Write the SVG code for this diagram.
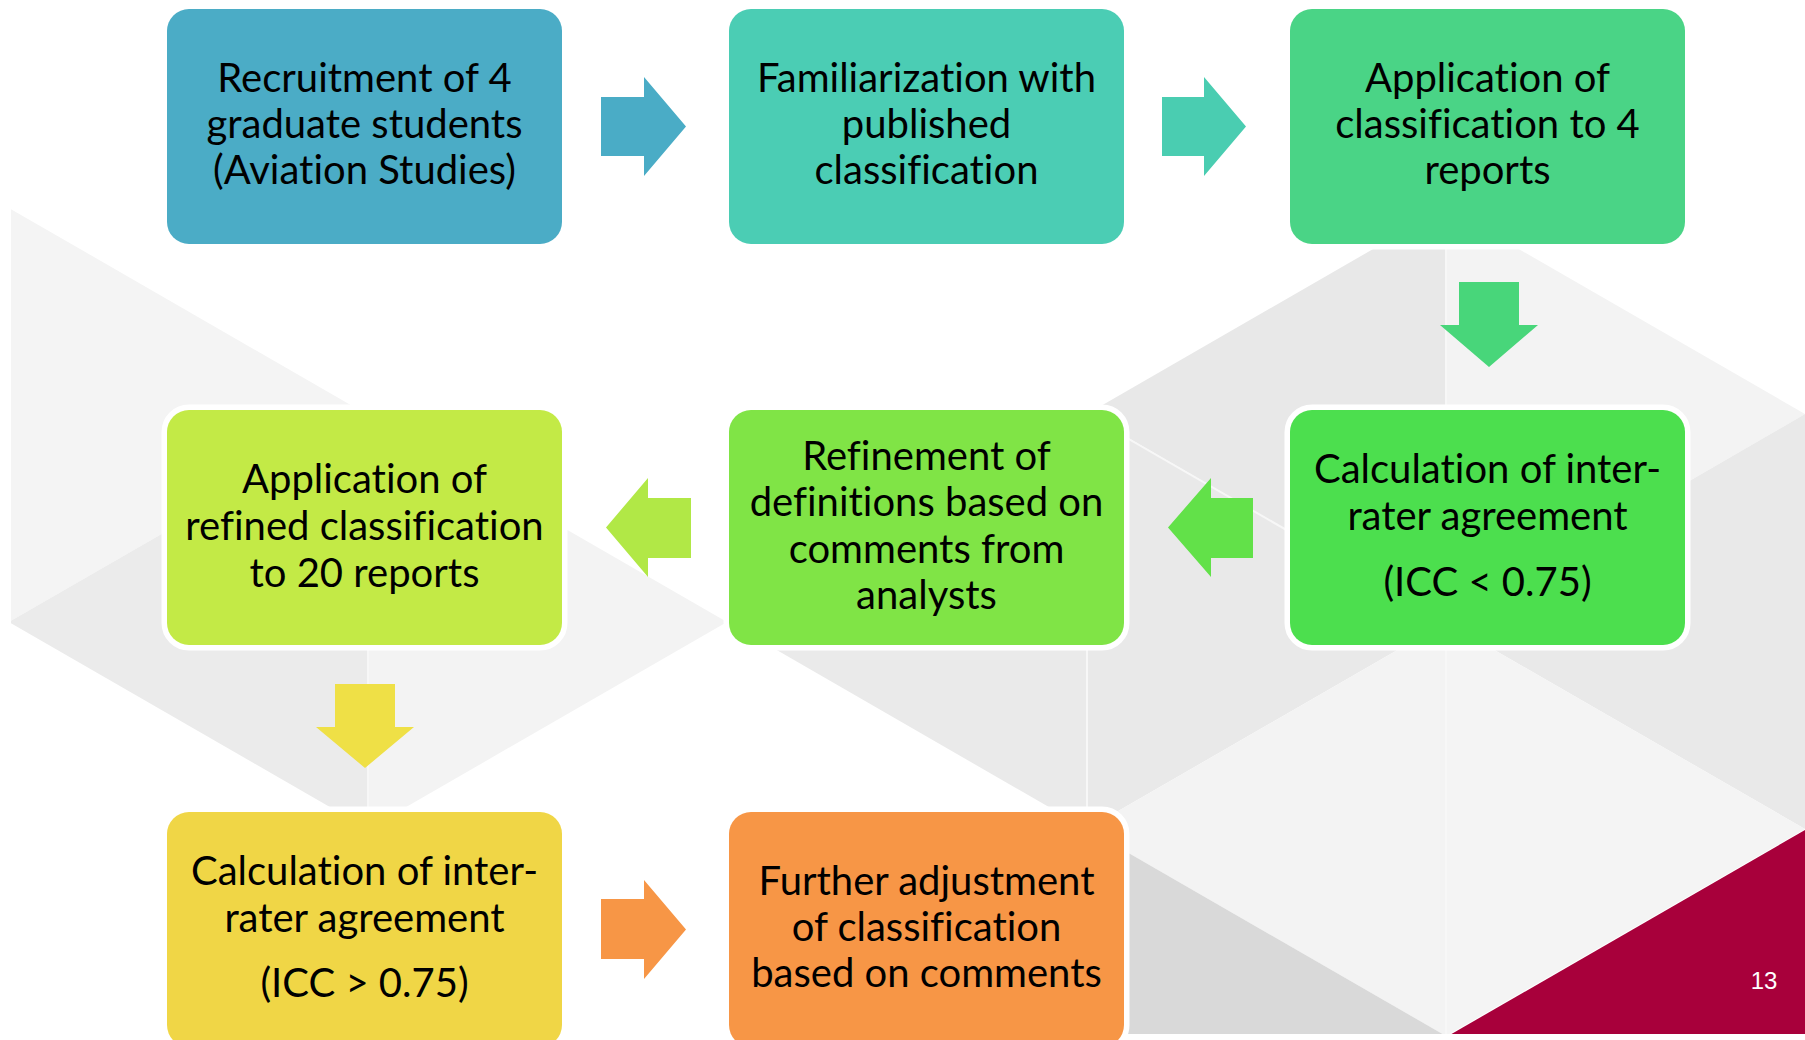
<svg xmlns="http://www.w3.org/2000/svg" width="1805" height="1040" viewBox="0 0 1805 1040">
  <defs>
    <clipPath id="slide"><rect x="11" y="0" width="1794" height="1034"/></clipPath>
    <style>
      .box { stroke: #ffffff; stroke-width: 11; paint-order: stroke; }
      .t { font-family: Lato, "Open Sans", "Liberation Sans", sans-serif; font-size: 40px; fill: #000; text-anchor: middle; font-variant-ligatures: none; }
      .pg { font-family: "Liberation Sans", Arial, sans-serif; font-size: 24px; fill: #ffffff; text-anchor: middle; }
      .edge { stroke: #f7f7f7; stroke-width: 2; fill: none; }
    </style>
  </defs>
  <rect width="1805" height="1040" fill="#ffffff"/>
  <g id="background" clip-path="url(#slide)">
    <polygon points="9,208 368,415 9,622" fill="#f4f4f4"/>
    <polygon points="9,622 368,415 368,829" fill="#ebebeb"/>
    <polygon points="368,415 727,622 368,829" fill="#f3f3f3"/>
    <polygon points="728,622 1087,415 1087,829" fill="#eaeaea"/>
    <polygon points="1087,415 1446,622 1087,829" fill="#e9e9e9"/>
    <polygon points="1087,414 1446,207 1446,622" fill="#e8e8e8"/>
    <polygon points="1446,207 1805,414 1446,622" fill="#f3f3f3"/>
    <polygon points="1446,622 1805,414 1805,829" fill="#e9e9e9"/>
    <polygon points="1087,829 1446,622 1446,1036" fill="#f3f3f3"/>
    <polygon points="1446,622 1805,829 1446,1036" fill="#f4f4f4"/>
    <polygon points="1087,829 1446,1036 1087,1036" fill="#d9d9d9"/>
    <polygon points="1448,1036 1805,830 1805,1036" fill="#a8003b"/>
    <line class="edge" x1="368" y1="415" x2="368" y2="829"/>
    <line class="edge" x1="1087" y1="415" x2="1087" y2="829"/>
    <line class="edge" x1="1087" y1="415" x2="1446" y2="622"/>
    <line class="edge" x1="1446" y1="207" x2="1446" y2="1036"/>
    <text class="pg" x="1764" y="989">13</text>
  </g>
  <g id="connectors">
    <polygon points="601,97 644,97 644,77 686,126.5 644,176 644,156 601,156" fill="#4aacc6"/>
    <polygon points="1162,97 1204,97 1204,77 1246,126.5 1204,176 1204,156 1162,156" fill="#4acdb1"/>
    <polygon points="1459,282 1519,282 1519,325 1538,325 1489,367 1440,325 1459,325" fill="#48d67a"/>
    <polygon points="1253,498 1211,498 1211,478 1168,527.5 1211,577 1211,558 1253,558" fill="#62e149"/>
    <polygon points="691,498 648,498 648,478 606,527.5 648,577 648,558 691,558" fill="#b1e846"/>
    <polygon points="335,684 395,684 395,727 414,727 365,768 316,727 335,727" fill="#efe046"/>
    <polygon points="601,899 644,899 644,880 686,929.5 644,979 644,959 601,959" fill="#f79646"/>
  </g>
  <g id="n1">
    <rect class="box" x="167" y="9" width="395" height="235" rx="22" fill="#4bacc6"/>
    <text class="t" x="364.5" y="92">Recruitment of 4</text>
    <text class="t" x="364.5" y="138">graduate students</text>
    <text class="t" x="364.5" y="184">(Aviation Studies)</text>
  </g>
  <g id="n2">
    <rect class="box" x="729" y="9" width="395" height="235" rx="22" fill="#4bcdb4"/>
    <text class="t" x="926.5" y="92">Familiarization with</text>
    <text class="t" x="926.5" y="138">published</text>
    <text class="t" x="926.5" y="184">classification</text>
  </g>
  <g id="n3">
    <rect class="box" x="1290" y="9" width="395" height="235" rx="22" fill="#4ad486"/>
    <text class="t" x="1487.5" y="92">Application of</text>
    <text class="t" x="1487.5" y="138">classification to 4</text>
    <text class="t" x="1487.5" y="184">reports</text>
  </g>
  <g id="n4">
    <rect class="box" x="167" y="410" width="395" height="235" rx="22" fill="#c3ea46"/>
    <text class="t" x="364.5" y="493">Application of</text>
    <text class="t" x="364.5" y="540">refined classification</text>
    <text class="t" x="364.5" y="587">to 20 reports</text>
  </g>
  <g id="n5">
    <rect class="box" x="729" y="410" width="395" height="235" rx="22" fill="#80e446"/>
    <text class="t" x="926.5" y="470">Refinement of</text>
    <text class="t" x="926.5" y="516">definitions based on</text>
    <text class="t" x="926.5" y="563">comments from</text>
    <text class="t" x="926.5" y="609">analysts</text>
  </g>
  <g id="n6">
    <rect class="box" x="1290" y="410" width="395" height="235" rx="22" fill="#4cdf4e"/>
    <text class="t" x="1487.5" y="483">Calculation of inter-</text>
    <text class="t" x="1487.5" y="530">rater agreement</text>
    <text class="t" x="1487.5" y="596">(ICC &lt; 0.75)</text>
  </g>
  <g id="n7">
    <rect class="box" x="167" y="812" width="395" height="235" rx="22" fill="#f0d646"/>
    <text class="t" x="364.5" y="885">Calculation of inter-</text>
    <text class="t" x="364.5" y="932">rater agreement</text>
    <text class="t" x="364.5" y="997">(ICC &gt; 0.75)</text>
  </g>
  <g id="n8">
    <rect class="box" x="729" y="812" width="395" height="235" rx="22" fill="#f79646"/>
    <text class="t" x="926.5" y="895">Further adjustment</text>
    <text class="t" x="926.5" y="941">of classification</text>
    <text class="t" x="926.5" y="987">based on comments</text>
  </g>
</svg>
